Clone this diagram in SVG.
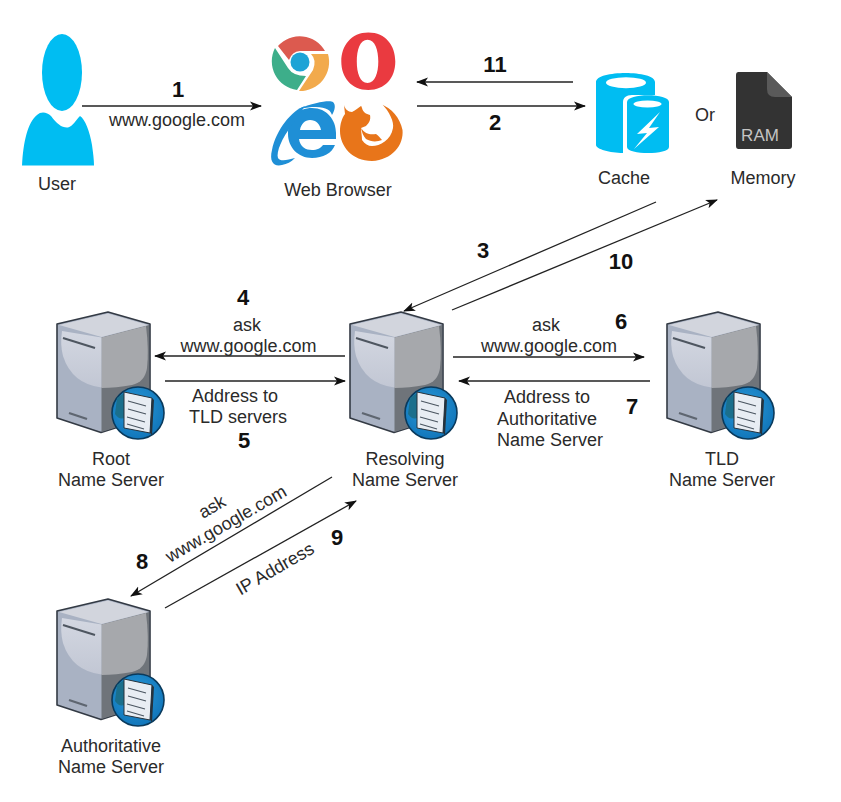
<svg xmlns="http://www.w3.org/2000/svg" xmlns:xlink="http://www.w3.org/1999/xlink" width="841" height="802" viewBox="0 0 841 802">
<style>
text{font-family:"Liberation Sans",Arial,sans-serif;font-size:18px;fill:#2a2a2a;text-anchor:middle}
.n{font-weight:bold;font-size:22px;fill:#111}
.c{fill:none;stroke:#222;stroke-width:1.3}
.a{fill:#00bdf2}
</style>
<defs>
<marker id="ah" markerWidth="14" markerHeight="10" refX="11" refY="5" orient="auto" markerUnits="userSpaceOnUse"><path d="M0,0.5 L12,5 L0,9.5 L3,5 Z" fill="#111"/></marker>
<linearGradient id="g1" x1="0" y1="0" x2="0" y2="1"><stop offset="0" stop-color="#d3d7e1"/><stop offset="1" stop-color="#c2c7d4"/></linearGradient>
<radialGradient id="gl" cx="0.45" cy="0.4" r="0.65"><stop offset="0" stop-color="#2b9ad8"/><stop offset="1" stop-color="#0f73b8"/></radialGradient>
<g id="server">
<path d="M57,324 L108,312 L150,324 L150,417 L101,432.500 L57,418 Z" fill="#a9b2c3" stroke="#333a44" stroke-width="1.6" stroke-linejoin="round"/>
<path d="M101.500,337.500 L149,325 L149,417 L101.500,432 Z" fill="#6f747a"/>
<path d="M101.500,337.500 L146,326 Q149,350 147,368 Q145,382 132,385 Q116,388 101.500,388 Z" fill="#a6a8ac"/>
<path d="M62,331 L101.500,337.500 L101.500,387.500 Q72,384 63,356 Q60,345 62,331 Z" fill="url(#g1)"/>
<path d="M59,325 L108,313.500 L148,325 L101.500,337 Z" fill="#d2d5dd"/>
<path d="M63,338 L95,348" stroke="#4e5660" stroke-width="2.200" fill="none"/>
<path d="M69,413 L87,419" stroke="#5e6670" stroke-width="2.200" fill="none"/>
<circle cx="138" cy="413" r="26" fill="url(#gl)" stroke="#0a3a5c" stroke-width="1.600"/>
<path d="M117,398 Q124,392 130,393 L130,412 Q122,424 115,414 Z" fill="#1b6f8c"/>
<path d="M124,392 L152,398 L150,433 L124,428 Z" fill="#e8edf3" stroke="#26323c" stroke-width="1"/>
<path d="M152,398 L154,400 L152,435 L150,433 Z" fill="#26323c"/>
<path d="M128,401 L146,406 M128,409 L146,414 M127,417 L145,422 M127,424 L144,429" stroke="#4a5560" stroke-width="1.100" fill="none"/>
</g>
</defs>

<g id="connectors">
<path class="c" marker-end="url(#ah)" d="M82,106 L261,106"/>
<path class="c" marker-end="url(#ah)" d="M573,82 L417,82"/>
<path class="c" marker-end="url(#ah)" d="M417,106 L585,106"/>
<path class="c" marker-end="url(#ah)" d="M656,202 L404,311"/>
<path class="c" marker-end="url(#ah)" d="M452,310 L717,200"/>
<path class="c" marker-end="url(#ah)" d="M345,356 L155,356"/>
<path class="c" marker-end="url(#ah)" d="M165,381 L345,381"/>
<path class="c" marker-end="url(#ah)" d="M453,357 L644,357"/>
<path class="c" marker-end="url(#ah)" d="M650,381 L459,381"/>
<path class="c" marker-end="url(#ah)" d="M332,477 L131,596"/>
<path class="c" marker-end="url(#ah)" d="M165,608 L356,501"/>
</g>

<g id="user">
<ellipse class="a" cx="62" cy="72.500" rx="20" ry="38.500"/>
<path class="a" d="M22,165.500 C23,142 28,122 37,115 C41,111 47,112 51,116 C57,124 62,128 68,127.500 C73,126 76,120 80,116 C85,119 90,132 92,145 C93,152 94,160 94,165.500 Z"/>
<text x="57" y="190">User</text>
</g>

<g id="browser">
<path id="chrome-red" d="M278,46 A29,29 0 0 1 325,51 L300,51 Q292,51.500 289,60 Z" fill="#dc5a4f"/>
<path id="chrome-green" d="M275,48 A29,29 0 0 0 297,90 L306,76 Q293,76 288,68 Z" fill="#3dae8a"/>
<path id="chrome-amber" d="M328,54 A29,29 0 0 1 299,91 L313,70 Q317,60 311,54 Z" fill="#f2aa4c"/>
<circle cx="300" cy="62" r="9.500" fill="#1ea3d6"/>
<path id="opera" fill-rule="evenodd" d="M368.300,32.600 C386,32.600 395.300,46 395.300,61.500 C395.300,78 385,90 368.300,90 C351,90 341.300,77 341.300,61.500 C341.300,46 351,32.600 368.300,32.600 Z M367.500,39.700 C360,39.700 356.800,50 356.800,61.500 C356.800,73 360,83 367.500,83 C375,83 378.300,73 378.300,61.500 C378.300,50 375,39.700 367.500,39.700 Z" fill="#ea3a40"/>
<g id="ie" fill="#1f8fd6">
<path fill-rule="evenodd" d="M336,139 L299,139 C300,147 306,150 312,150 C317,150 321,148 323,145 L335,145 C332,153 323,158 312,158 C298,158 288,147 288,134 C288,118 298,108 312,108 C327,108 336,120 336,133 Z M300,130 L321,130 C320,124 316,120 310,120 C305,120 301,124 300,130 Z"/>
<path d="M305,106 C292,110 276,130 272,150 C269,162 274,167 282,165 C287,164 291,162 295,158 C288,160 280,162 278,158 C276,152 282,138 292,125 Z"/>
<path d="M298,109 C315,102 330,100 333,102 C336,105 335,110 332,115 C330,108 323,107 312,107 Z"/>
</g>
<g id="firefox">
<path d="M344,105 C345,109 348,112 352,112 C356,110 358,108 361,106 L380,104 C392,108 400,118 402.500,130 C404,145 392,160 372,161 C352,161 340,146 340,131 C340,124 342,118 345,114 Z" fill="#e8751a"/>
<path d="M360,103 L381,103 C390,112 394,122 393,128 C391,140 380,146 372,146 C368,146 365,144 362,140 C362,136 361,132 361,128 L366,126 C369,123 371,120 370,115 C366,114 363,112 362,108 Z" fill="#fff"/>
<path d="M361,128 C365,134 370,135 376,134 C379,136 380,138 382,140 C377,142 371,142 366,139 C363,136 362,132 361,128 Z" fill="#e8751a"/>
</g>
<text x="338" y="196">Web Browser</text>
</g>

<g id="cache">
<path class="a" d="M596,82 C596,70 655,70 655,82 L655,95 L632,95 C626,95 623,98 623,102 L623,153 C610,153 596,149 596,145 Z"/>
<ellipse cx="626" cy="82.700" rx="20" ry="5.500" fill="#fff"/>
<path class="a" d="M627,102 C627,93 669,93 669,102 L669,147 C669,155 627,155 627,147 Z"/>
<ellipse cx="647.500" cy="104" rx="14" ry="3.500" fill="#fff"/>
<path d="M660,112 L637,134 L647,133 L634,149 L659,127 L649,128 Z" fill="#fff"/>
<text x="624" y="184">Cache</text>
</g>
<text id="or" x="705" y="121">Or</text>
<g id="memory">
<path d="M738.500,72 L767,72 L792,97 L792,146 Q792,149 789,149 L738.500,149 Q736,149 736,146 L736,75 Q736,72 738.500,72 Z" fill="#333"/>
<path d="M767,72 L792,97 L775,97 Q767,97 767,89 Z" fill="#5a5a5a"/>
<text x="760" y="141" style="font-size:17px;fill:#c4c4c4">RAM</text>
<text x="763" y="184">Memory</text>
</g>

<g id="root"><use xlink:href="#server"/><text x="111" y="465">Root</text><text x="111" y="486">Name Server</text></g>
<g id="resolving"><use xlink:href="#server" transform="translate(293,0)"/><text x="405" y="465">Resolving</text><text x="405" y="486">Name Server</text></g>
<g id="tld"><use xlink:href="#server" transform="translate(610,0)"/><text x="722" y="465">TLD</text><text x="722" y="486">Name Server</text></g>
<g id="authoritative"><use xlink:href="#server" transform="translate(0,287)"/><text x="111" y="752">Authoritative</text><text x="111" y="773">Name Server</text></g>

<g id="labels">
<text class="n" x="178" y="97">1</text>
<text x="177" y="126">www.google.com</text>
<text class="n" x="495" y="72">11</text>
<text class="n" x="495" y="130">2</text>
<text class="n" x="483" y="258">3</text>
<text class="n" x="621" y="269">10</text>
<text class="n" x="243" y="305">4</text>
<text x="247" y="331">ask</text>
<text x="248.500" y="352">www.google.com</text>
<text x="235" y="402">Address to</text>
<text x="238" y="423">TLD servers</text>
<text class="n" x="244" y="448">5</text>
<text x="546" y="331">ask</text>
<text class="n" x="621" y="329">6</text>
<text x="549" y="352">www.google.com</text>
<text x="547" y="403">Address to</text>
<text x="547" y="425">Authoritative</text>
<text x="550" y="446">Name Server</text>
<text class="n" x="632" y="414">7</text>
<text transform="translate(215,512) rotate(-30)" x="0" y="0">ask</text>
<text transform="translate(229,529) rotate(-30)" x="0" y="0">www.google.com</text>
<text class="n" x="142" y="569">8</text>
<text class="n" x="337" y="545">9</text>
<text transform="translate(278,574) rotate(-30)" x="0" y="0">IP Address</text>
</g>
</svg>
